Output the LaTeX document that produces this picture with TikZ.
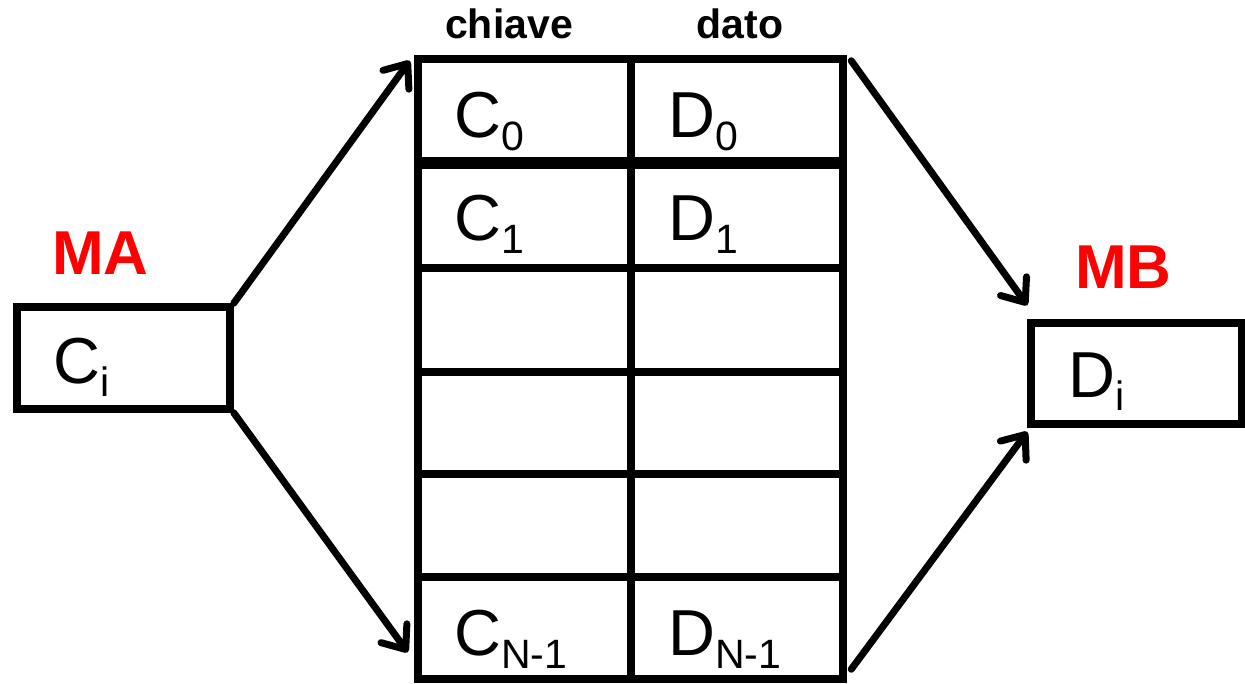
\documentclass[tikz,border=0pt]{standalone}
\usepackage{fontspec}
\setmainfont{Liberation Sans}
\usetikzlibrary{arrows.meta,calc}
\newcommand{\lblsub}[2]{#1\raisebox{-13pt}{\fontsize{41}{41}\selectfont #2}}
\begin{document}
\begin{tikzpicture}[x=1pt,y=-1pt,
  frame/.style={draw, line width=8.5pt, inner sep=0pt},
  boxframe/.style={draw, line width=7.5pt, inner sep=0pt},
  grid/.style={line width=8.5pt},
  conn/.style={line width=7pt, line cap=round, -{Straight Barb[length=20pt,width=32pt,round]}},
  celltext/.style={anchor=base west, inner sep=0pt, font=\fontsize{65}{65}\selectfont},
  head/.style={anchor=base, inner sep=0pt, font=\fontsize{41}{41}\selectfont\bfseries},
  mem/.style={anchor=base west, inner sep=0pt, text=red, font=\fontsize{62}{62}\selectfont\bfseries}]
\useasboundingbox (0,0) rectangle (1245,683);
% table
\node[frame, minimum width=425pt, minimum height=620pt] (tab) at (630.5,369) {};
\draw[grid] (631,59) coordinate (vtop) -- (631,679) coordinate (vbot);
\draw[line width=11.5pt] (418,163) coordinate (h1l) -- (843,163) coordinate (h1r);
\foreach \yy/\nm in {268/h2,372/h3,474/h4,577/h5}
  \draw[grid] (418,\yy) coordinate (\nm l) -- (843,\yy) coordinate (\nm r);
% headers
\node[head] (hk) at (509,38) {chiave};
\node[head] (hd) at (740,38) {dato};
% cell texts
\node[celltext] (c0) at (454,137) {\lblsub{C}{0}};
\node[celltext] (d0) at (668,137) {\lblsub{D}{0}};
\node[celltext] (c1) at (454,240) {\lblsub{C}{1}};
\node[celltext] (d1) at (668,240) {\lblsub{D}{1}};
\node[celltext] (cn) at (454,655) {\lblsub{C}{N-1}};
\node[celltext] (dn) at (668,655) {\lblsub{D}{N-1}};
% MA box
\node[boxframe, minimum width=213pt, minimum height=102pt] (ma) at (123.5,358) {};
\node[celltext] (ci) at (53,383) {\lblsub{C}{i}};
\node[mem] (malbl) at (52,274) {MA};
% MB box
\node[boxframe, minimum width=211pt, minimum height=101pt] (mb) at (1136.5,373.5) {};
\node[celltext] (di) at (1068,397) {\lblsub{D}{i}};
\node[mem] (mblbl) at (1075,288) {MB};
% connectors
\coordinate (t1) at ($(tab.north west)+(-4,6)$);
\coordinate (t2) at ($(tab.south west)+(-6,-31)$);
\coordinate (s3) at ($(tab.north east)+(4,6)$);
\coordinate (s4) at ($(tab.south east)+(4,-14)$);
\coordinate (t3) at ($(mb.north west)+(0,-14)$);
\coordinate (t4) at ($(mb.south west)+(0,4)$);
\draw[conn] (ma.north east) -- (t1);
\draw[conn] (ma.south east) -- (t2);
\draw[conn] (s3) -- (t3);
\draw[conn] (s4) -- (t4);
\end{tikzpicture}
\end{document}
